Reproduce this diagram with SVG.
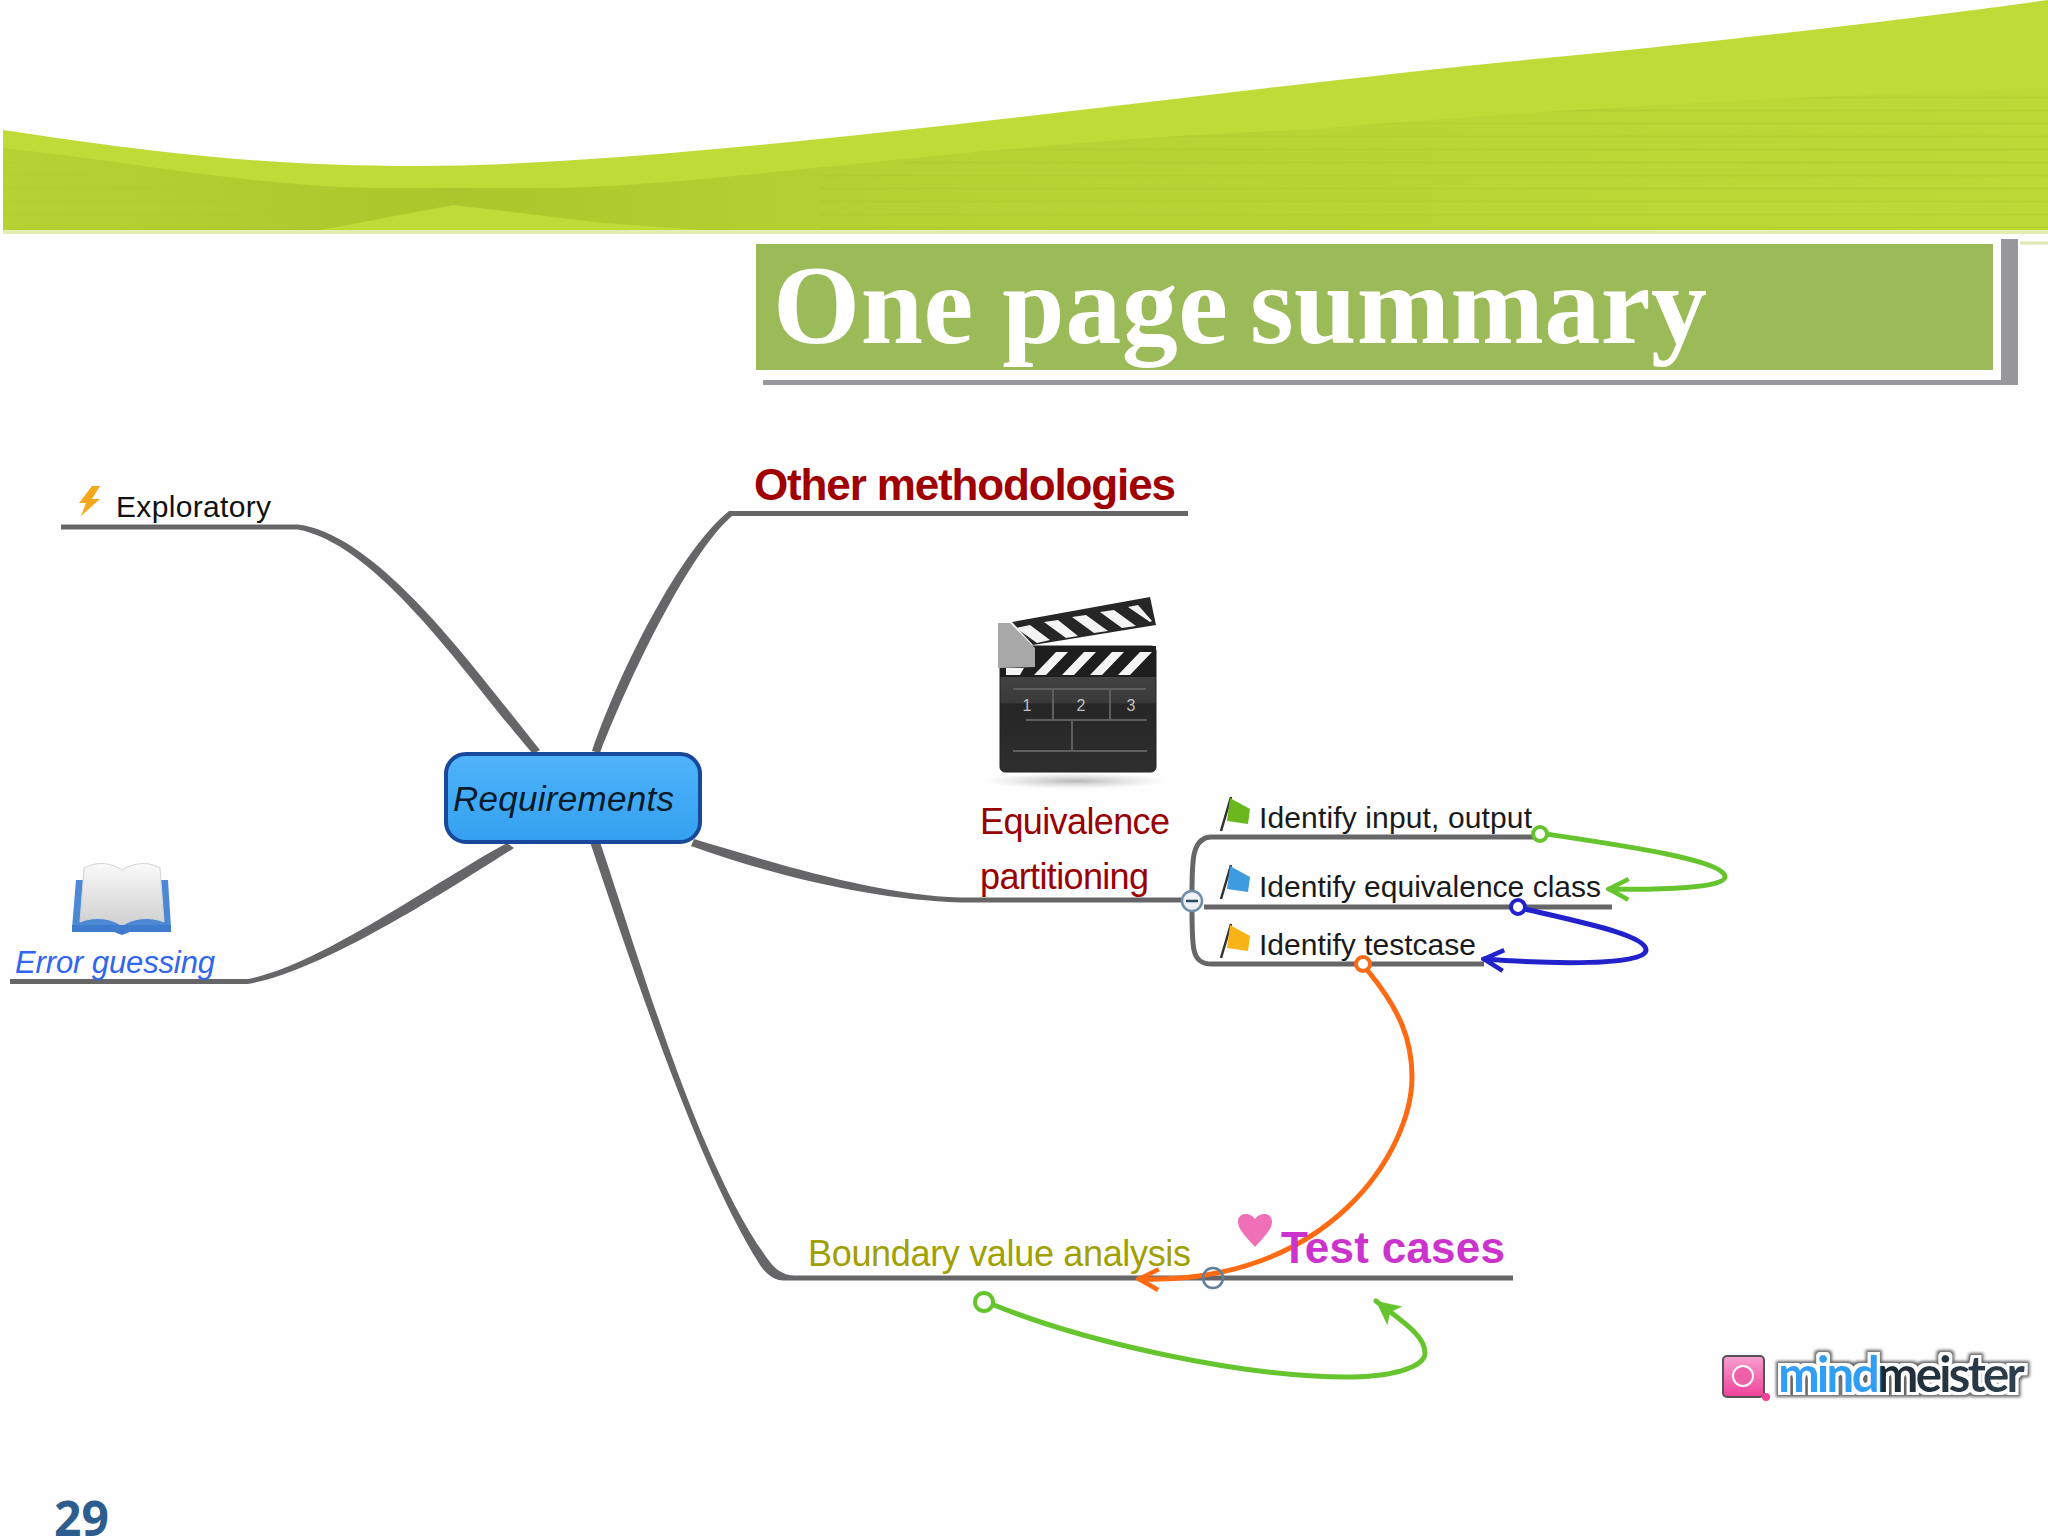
<svg xmlns="http://www.w3.org/2000/svg" width="2048" height="1536" viewBox="0 0 2048 1536">
<defs>
<style>
text{font-family:"Liberation Sans",Arial,sans-serif}
.br{fill:#666668;stroke:none}
.ln{fill:none;stroke:#666668;stroke-width:5}
.id{font-size:30px;fill:#1a1a1a}
.rel{fill:none;stroke-width:5;stroke-linecap:round;stroke-linejoin:round}
.g{stroke:#66c52e}.b{stroke:#2222cc}.o{stroke:#ff6a13}
.ring{fill:#fff;stroke-width:4}
.pole{stroke:#333;stroke-width:2.5;fill:none}
</style>
<linearGradient id="band" x1="0" y1="0" x2="1" y2="0"><stop offset="0" stop-color="#a7c32a" stop-opacity=".4"/><stop offset=".22" stop-color="#a7c32a" stop-opacity=".85"/><stop offset=".44" stop-color="#a7c32a" stop-opacity=".4"/><stop offset="1" stop-color="#a7c32a" stop-opacity=".08"/></linearGradient>
<pattern id="stripes" width="420" height="13" patternUnits="userSpaceOnUse"><path d="M0 6.5 H420" stroke="#a9c52a" stroke-width="2" stroke-opacity=".4" fill="none"/></pattern>
<linearGradient id="req" x1="0" y1="0" x2="0" y2="1"><stop offset="0" stop-color="#4fb4fa"/><stop offset="1" stop-color="#34a0f0"/></linearGradient>
<linearGradient id="mm" x1="0" y1="0" x2="1" y2="0"><stop offset="0" stop-color="#2f9ff5"/><stop offset=".41" stop-color="#2f9ff5"/><stop offset=".42" stop-color="#1c2a36"/><stop offset="1" stop-color="#2f4250"/></linearGradient>
<linearGradient id="body" x1="0" y1="0" x2="0" y2="1"><stop offset="0" stop-color="#4a4a4a"/><stop offset=".45" stop-color="#3a3a3a"/><stop offset=".46" stop-color="#262626"/><stop offset="1" stop-color="#2e2e2e"/></linearGradient>
<linearGradient id="pinkg" x1="0" y1="0" x2="0" y2="1"><stop offset="0" stop-color="#f8a0d0"/><stop offset="1" stop-color="#f0409a"/></linearGradient>
<radialGradient id="shad"><stop offset="0" stop-color="#999" stop-opacity=".7"/><stop offset="1" stop-color="#bbb" stop-opacity="0"/></radialGradient>
<linearGradient id="bk" x1="0" y1="0" x2="0" y2="1"><stop offset="0" stop-color="#fafafa"/><stop offset="1" stop-color="#cfcfcf"/></linearGradient>
<filter id="outl" x="-5%" y="-30%" width="110%" height="160%">
<feMorphology in="SourceAlpha" operator="dilate" radius="5" result="d1"/>
<feGaussianBlur in="d1" stdDeviation="1.6" result="d2"/>
<feFlood flood-color="#666"/><feComposite in2="d2" operator="in" result="dark"/>
<feMorphology in="SourceAlpha" operator="dilate" radius="2.6" result="d3"/>
<feFlood flood-color="#fff"/><feComposite in2="d3" operator="in" result="white"/>
<feMerge><feMergeNode in="dark"/><feMergeNode in="white"/><feMergeNode in="SourceGraphic"/></feMerge>
</filter>
<marker id="agreen" viewBox="0 0 20 20" refX="18" refY="10" markerWidth="26" markerHeight="26" markerUnits="userSpaceOnUse" orient="auto"><path d="M3 2 L18 10 L3 18" fill="none" stroke="#66c52e" stroke-width="3.5"/></marker>
<marker id="ablue" viewBox="0 0 20 20" refX="18" refY="10" markerWidth="26" markerHeight="26" markerUnits="userSpaceOnUse" orient="auto"><path d="M3 2 L18 10 L3 18" fill="none" stroke="#2222cc" stroke-width="3.5"/></marker>
<marker id="aorange" viewBox="0 0 20 20" refX="18" refY="10" markerWidth="26" markerHeight="26" markerUnits="userSpaceOnUse" orient="auto"><path d="M3 2 L18 10 L3 18" fill="none" stroke="#ff6a13" stroke-width="3.5"/></marker>
<marker id="agreenf" viewBox="0 0 20 20" refX="18" refY="10" markerWidth="30" markerHeight="30" markerUnits="userSpaceOnUse" orient="auto"><path d="M2 2 L18 10 L2 18 L6 10 Z" fill="#66c52e"/></marker>
</defs>
<rect width="2048" height="1536" fill="#fefefe"/>

<g id="banner">
<path d="M3 130 C150 152 260 166 418 166 C700 166 1200 90 1567 56 C1750 38 1900 20 2048 0 L2048 231 L3 231 Z" fill="#bfdb38"/>
<path d="M3 148 C120 160 240 185 373 188 H545 C700 188 1000 140 1300 130 C1600 105 1850 95 2048 88 V231 H717 L603 223 L453 205 L321 230 H3 Z" fill="url(#band)"/>
<path d="M820 175 C1000 145 1200 133 1300 130 C1600 105 1850 95 2048 88 V229 H820 Z" fill="url(#stripes)"/>
<path d="M3 160 C60 170 150 185 260 200 L321 229 H3 Z" fill="url(#stripes)" opacity=".5"/>
<path d="M3 232 H2048" stroke="#e4eeb0" stroke-width="4"/>
<path d="M2020 243 H2048" stroke="#dfe8b0" stroke-width="3"/>
</g>

<g id="title">
<rect x="2001" y="239" width="17" height="146" fill="#98989c"/>
<rect x="763" y="380" width="1255" height="5" fill="#98989c"/>
<rect x="755" y="243" width="1239" height="128" fill="#9bbb59" stroke="#fff" stroke-width="2"/>
<text x="773" y="343" font-size="112" font-weight="700" fill="#fff" style="font-family:'Liberation Serif',serif"><tspan x="773" textLength="455">One page</tspan><tspan x="1250" textLength="457">summary</tspan></text>
</g>

<text id="page-number" x="54" y="1536" font-size="48" font-weight="700" fill="#2d5d8e" style="font-family:'Open Sans',sans-serif">29</text>

<g id="connectors">
<path class="br" d="M61 524.5 H298 C380 535 475 670 540 750 L533 754 C470 682 380 545 298 529.5 H61 Z"/>
<path class="br" d="M592 751 C620 670 680 550 729 511 H1188 V516 H732 C690 552 630 675 600 753 Z"/>
<path class="br" d="M10 979 H248 C320 965 430 885 507 843 L514 848 C440 895 320 972 248 984 H10 Z"/>
<path class="br" d="M694 839 C780 865 880 895 960 897.5 H1182 V902.5 H960 C880 900 780 878 691 846 Z"/>
<path class="br" d="M590 842 L600 842 C640 960 700 1170 770 1262 Q780 1275.5 795 1275.5 H1513 V1280.5 H783 Q770 1280 760 1265 C700 1170 640 990 590 842 Z"/>
<path class="ln" d="M1192 892 C1192 860 1192 837 1212 837 H1538"/>
<path class="ln" d="M1192 910 C1192 950 1192 964 1212 964 H1484"/>
<path class="ln" d="M1204 907 H1612"/>
<path class="rel g" marker-end="url(#agreen)" d="M1546 834 C1620 845 1725 860 1725 877 C1725 888 1660 890 1609 889"/>
<path class="rel b" marker-end="url(#ablue)" d="M1525 909 C1580 922 1646 935 1646 950 C1646 966 1550 964 1484 959"/>
<path class="rel o" marker-end="url(#aorange)" d="M1368 971 C1400 1010 1412 1040 1412 1077 C1412 1150 1330 1285 1139 1279"/>
<path class="rel g" marker-end="url(#agreenf)" d="M994 1305 C1080 1340 1240 1378 1352 1377 C1400 1376 1425 1365 1425 1353 C1425 1335 1400 1320 1376 1301"/>
<circle class="ring g" cx="1540" cy="834" r="7"/>
<circle class="ring b" cx="1518" cy="907" r="7"/>
<circle class="ring o" cx="1363" cy="964" r="7"/>
<circle class="ring g" cx="984" cy="1302" r="9"/>
</g>

<g id="node-requirements">
<rect x="446" y="754" width="254" height="88" rx="20" fill="url(#req)" stroke="#17489a" stroke-width="4"/>
<text x="453" y="811" font-size="35" font-style="italic" fill="#0a1a2a" textLength="221">Requirements</text>
</g>

<g id="node-exploratory">
<path d="M92 486 L100 486 L92 499 L100 499 L81 516 L86 503 L79 503 Z" fill="#f6a81c"/>
<text x="116" y="517" font-size="30" fill="#111" textLength="155">Exploratory</text>
</g>

<g id="node-error-guessing">
<path d="M76 880 H168 L171 928 H72 Z" fill="#4c88d4"/>
<path d="M84 868 C100 860 112 864 122 870 C132 864 146 860 160 868 L164 922 C150 916 132 918 122 926 C112 918 94 916 80 922 Z" fill="url(#bk)" stroke="#d0d4da"/>
<path d="M72 925 H171 V932 H130 L122 935 L114 932 H72 Z" fill="#3f7ccd"/>
<text x="15" y="973" font-size="31" font-style="italic" fill="#3366ee" textLength="200">Error guessing</text>
</g>

<g id="node-other">
<text x="754" y="500" font-size="44" font-weight="700" fill="#a00000" textLength="422">Other methodologies</text>
</g>

<g id="node-equivalence">
<ellipse cx="1075" cy="781" rx="92" ry="8" fill="url(#shad)"/>
<rect x="1000" y="646" width="156" height="126" rx="5" fill="url(#body)" stroke="#222"/>
<rect x="1000" y="646" width="156" height="31" fill="#1e1e1e"/>
<path d="M1034 675 L1056 652 H1068 L1046 675 Z M1062 675 L1084 652 H1096 L1074 675 Z M1090 675 L1112 652 H1124 L1102 675 Z M1118 675 L1140 652 H1152 L1130 675 Z M1006 675 H1020 L1024 668 H1006 Z" fill="#f4f4f4"/>
<path d="M1012 622 L1150 597 L1156 625 L1033 645 Z" fill="#262626"/>
<path d="M1016 628 L1030 625 L1050 640 L1037 643 Z M1044 622 L1058 620 L1078 636 L1066 638 Z M1072 617 L1086 615 L1108 631 L1094 633 Z M1100 612 L1114 610 L1136 626 L1122 628 Z M1128 607 L1138 605 L1152 621 L1150 622 Z" fill="#f4f4f4"/>
<path d="M998 623 H1010 L1035 648 V667 L998 668 Z" fill="#a8a8a8"/>
<g stroke="#5e5e5e" stroke-width="2" fill="none">
<path d="M1013 689 H1146 M1026 720 H1147 M1013 751 H1147 M1053 689 V720 M1110 689 V720 M1072 720 V751"/>
</g>
<g font-size="16" fill="#c0c0c0" text-anchor="middle"><text x="1027" y="711">1</text><text x="1081" y="711">2</text><text x="1131" y="711">3</text></g>
<text x="980" y="834" font-size="36" fill="#990000" textLength="190">Equivalence</text>
<text x="980" y="889" font-size="36" fill="#990000" textLength="169">partitioning</text>
</g>

<g id="node-identify-input">
<path class="pole" d="M1221 831 L1231 797"/><path d="M1230 798 L1250 809 L1248 824 L1227 821 Z" fill="#6ab81e"/>
<text class="id" x="1259" y="828" textLength="273">Identify input, output</text>
</g>
<g id="node-identify-class">
<path class="pole" d="M1221 899 L1231 865"/><path d="M1230 866 L1250 877 L1248 892 L1227 889 Z" fill="#3f9be0"/>
<text class="id" x="1259" y="897" textLength="342">Identify equivalence class</text>
</g>
<g id="node-identify-testcase">
<path class="pole" d="M1221 958 L1231 924"/><path d="M1230 925 L1250 936 L1248 951 L1227 948 Z" fill="#f8b416"/>
<text class="id" x="1259" y="955" textLength="217">Identify testcase</text>
</g>
<g id="toggle-equivalence">
<circle cx="1192" cy="901" r="10" fill="#eef2f6" stroke="#6f8ea8" stroke-width="2.5"/><path d="M1186 901 H1198" stroke="#2a4a6a" stroke-width="2.5"/>
</g>

<g id="node-boundary">
<text x="808" y="1266" font-size="36" fill="#a0a000" textLength="383">Boundary value analysis</text>
</g>
<g id="toggle-boundary">
<circle cx="1213" cy="1278" r="10" fill="none" stroke="#5f7f9a" stroke-width="2.5"/>
</g>

<g id="node-test-cases">
<path d="M1255 1247 C1245 1236 1238 1229 1238 1222 C1238 1212 1250 1212 1255 1219 C1260 1212 1272 1212 1272 1222 C1272 1229 1265 1236 1255 1247 Z" fill="#f070b8"/>
<text x="1281" y="1263" font-size="44" font-weight="700" fill="#cc33cc" textLength="224">Test cases</text>
</g>

<g id="mindmeister-logo">
<rect x="1723" y="1356" width="41" height="41" rx="4" fill="url(#pinkg)" stroke="#555" stroke-width="2"/>
<circle cx="1743" cy="1376" r="10" fill="#f060a8" stroke="#fff" stroke-width="2"/>
<circle cx="1766" cy="1397" r="4" fill="#f0409a"/>
<text x="1778" y="1392" font-size="50" font-weight="700" fill="url(#mm)" filter="url(#outl)" textLength="247" style="font-family:Lato,sans-serif">mindmeister</text>
</g>
</svg>
